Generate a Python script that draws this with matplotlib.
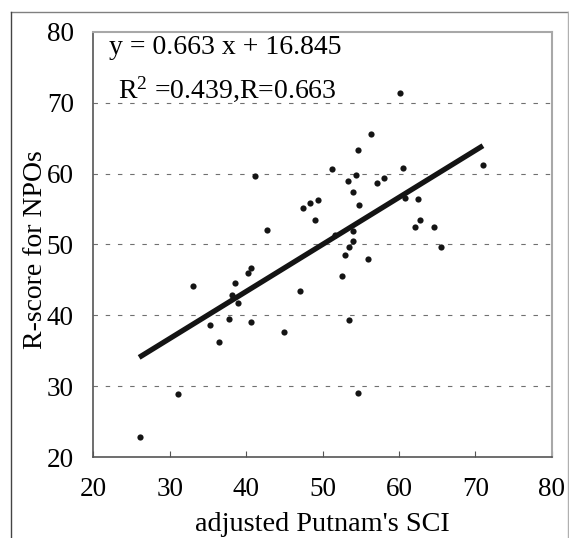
import matplotlib
matplotlib.use("Agg")
import matplotlib.pyplot as plt
from matplotlib.lines import Line2D
import numpy as np

plt.rcParams['font.family'] = ['Liberation Serif', 'DejaVu Serif']
plt.rcParams['mathtext.fontset'] = 'custom'
plt.rcParams['mathtext.rm'] = 'Liberation Serif'
plt.rcParams['mathtext.it'] = 'Liberation Serif:italic'
plt.rcParams['mathtext.bf'] = 'Liberation Serif:bold'

# ---- data ----
sci = [26.1, 31.1, 33.1, 35.3, 36.4, 37.7, 38.2, 38.5, 38.9, 40.3,
       40.6, 40.6, 41.2, 42.8, 44.9, 47.1, 47.4, 48.4, 49.0, 49.4,
       51.2, 51.6, 52.5, 52.9, 53.3, 53.5, 53.5, 54.0, 54.0, 54.0,
       54.4, 54.6, 54.6, 54.8, 55.9, 56.3, 57.1, 58.0, 60.1, 60.5,
       60.8, 62.1, 62.5, 62.8, 64.6, 65.5, 71.0]
rscore = [22.8, 28.9, 44.1, 38.7, 36.3, 39.5, 42.9, 44.5, 41.7, 46.0,
          46.7, 39.0, 59.7, 52.0, 37.7, 43.4, 55.1, 55.9, 53.4, 56.3,
          60.7, 51.3, 45.6, 48.5, 58.9, 49.6, 39.4, 50.5, 57.4, 51.9,
          59.8, 63.3, 29.1, 55.5, 47.9, 65.5, 58.6, 59.3, 71.3, 60.8,
          56.6, 52.5, 56.4, 53.5, 52.4, 49.6, 61.2]
slope = 0.663
intercept = 16.845
fit_range = [26.0, 71.0]
xticks = [20, 30, 40, 50, 60, 70, 80]
yticks = [20, 30, 40, 50, 60, 70, 80]
eq_text = "y = 0.663 x + 16.845"
r_text = r"R$^{\mathrm{2}}$ =0.439,R=0.663"
xlabel = "adjusted Putnam's SCI"
ylabel = "R-score for NPOs"

W, H = 569, 538
fig = plt.figure(figsize=(W / 100, H / 100), dpi=100)

# outer frame (cropped at bottom)
def px(x, y):
    return x / W, 1 - y / H
for (x0, y0), (x1, y1), c in [((10.7, 11.7), (568.3, 11.7), '#808080'),
                              ((10.7, 11.7), (10.7, 540), '#444444'),
                              ((568.3, 11.7), (568.3, 540), '#b0b0b0')]:
    a, b = px(x0, y0)
    cc, d = px(x1, y1)
    fig.add_artist(Line2D([a, cc], [b, d], color=c, lw=1.0))

left, right = 93.3 / W, 551.7 / W
top, bottom = 1 - 31.6 / H, 1 - 457.3 / H
ax = fig.add_axes([left, bottom, right - left, top - bottom])

ax.set_xlim(20, 80)
ax.set_ylim(20, 80)
ax.set_xticks(xticks)
ax.set_yticks(yticks)

for yv in yticks[1:-1]:
    ax.axhline(yv, color='#707070', lw=0.8, linestyle=(0, (4, 7)), zorder=1)

xf = np.array(fit_range)
ax.plot(xf, slope * xf + intercept, color='#141414', lw=3.8,
        solid_capstyle='butt', zorder=2)
ax.scatter(sci, rscore, s=20, color='#141414', zorder=3, linewidths=0)

for s in ['top', 'right']:
    ax.spines[s].set_color('#a8a8a8')
    ax.spines[s].set_linewidth(1.5)
for s in ['left', 'bottom']:
    ax.spines[s].set_color('#555555')
    ax.spines[s].set_linewidth(1.2)

ax.tick_params(axis='x', direction='in', length=4.5, width=0.8,
               color='#555555', labelsize=19.5, pad=14)
ax.tick_params(axis='y', length=0, labelsize=19.5, pad=14)

ax.text(0.034, 0.963, eq_text, transform=ax.transAxes, fontsize=20,
        ha='left', va='center')
ax.text(0.054, 0.865, r_text, transform=ax.transAxes, fontsize=20,
        ha='left', va='center')

fig.text(322.5 / W, 1 - 530.7 / H, xlabel, fontsize=20.3, ha='center',
         va='baseline')
fig.text(36 / W, 1 - 250 / H, ylabel, fontsize=20, ha='center',
         va='center', rotation=90)

fig.savefig('out.png', dpi=100)
